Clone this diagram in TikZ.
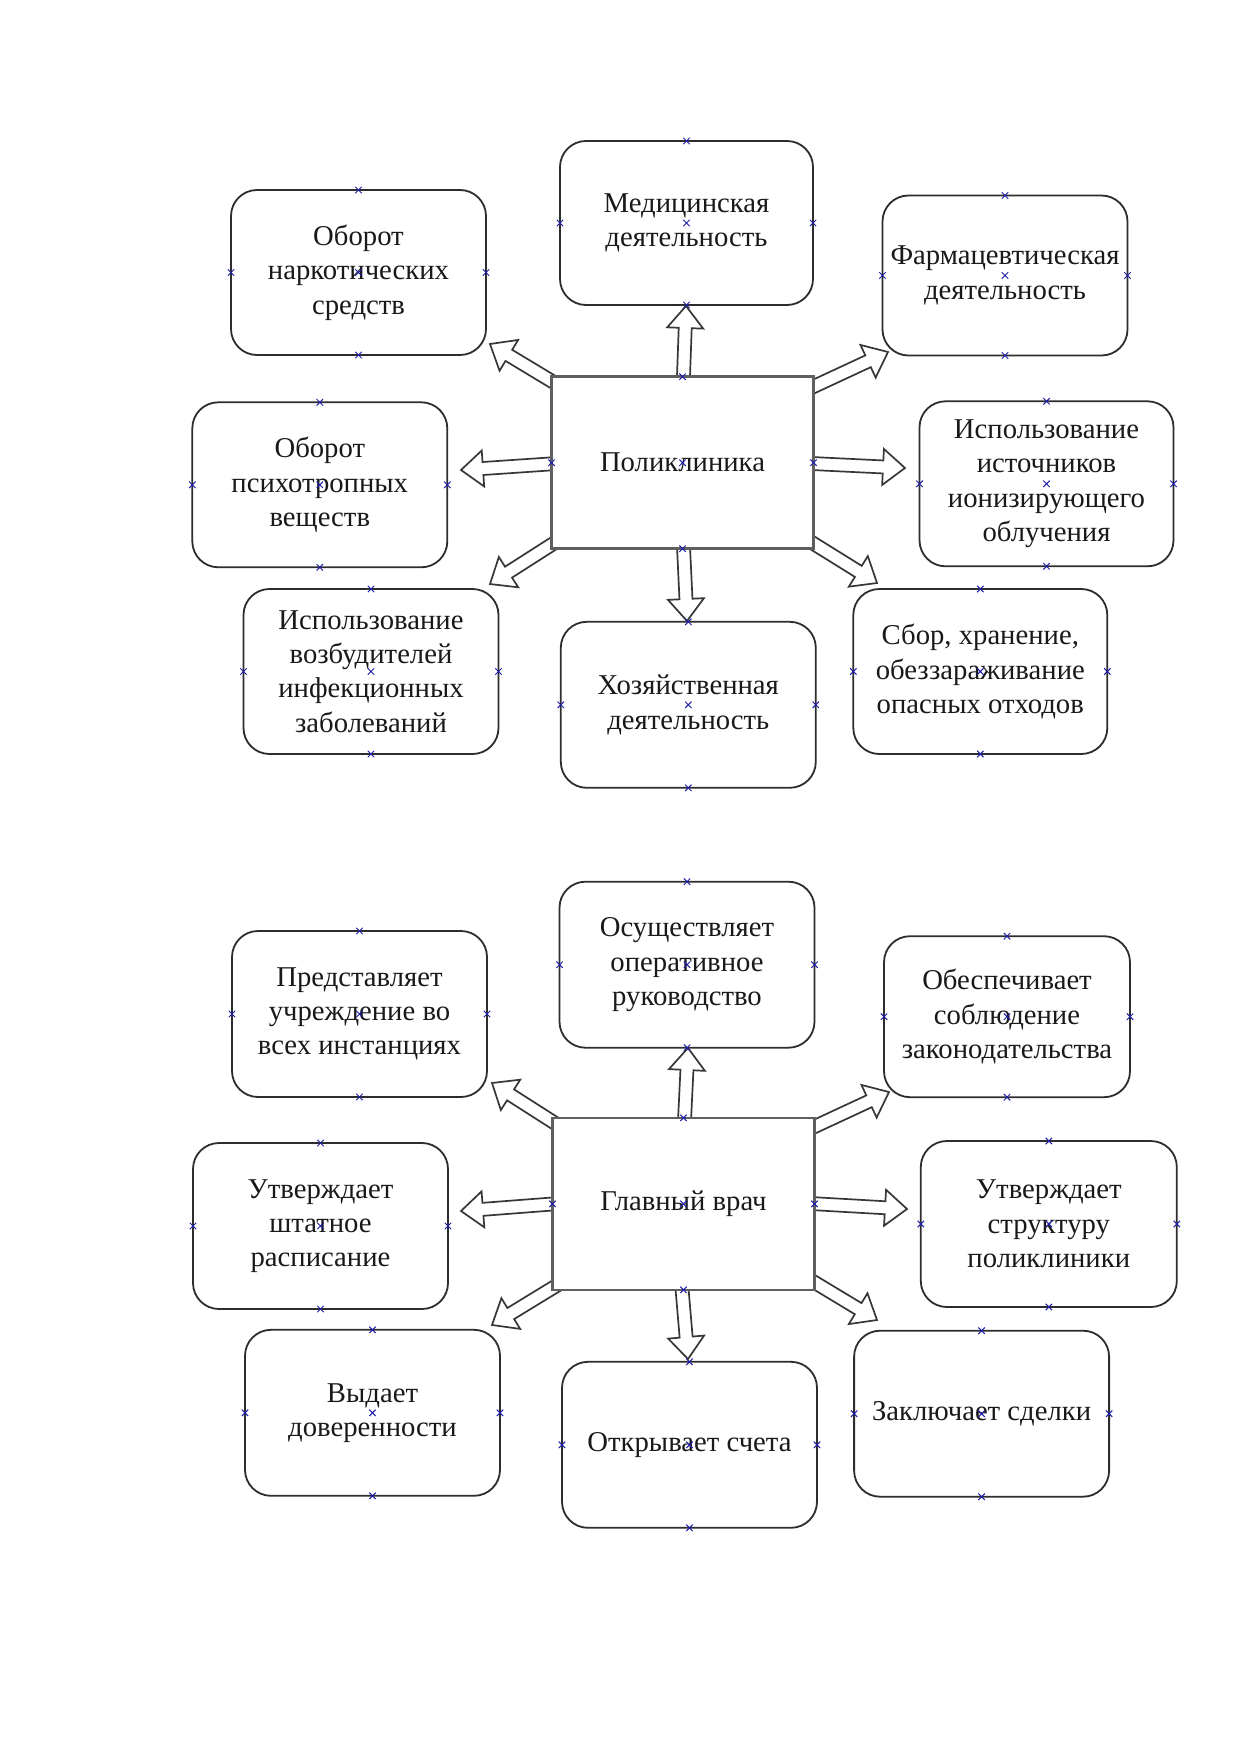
\documentclass[tikz,border=0pt]{standalone}
\usepackage{fontspec}
\setmainfont{Liberation Serif}
\usetikzlibrary{calc}
\pgfdeclarelayer{background}
\pgfsetlayers{background,main}
\definecolor{boxline}{RGB}{45,45,45}
\definecolor{cenline}{RGB}{95,95,95}
\definecolor{arrline}{RGB}{55,55,55}
\definecolor{markblue}{RGB}{30,30,170}
\tikzset{
  rbox/.style={draw=boxline, line width=1.8pt, fill=white, rectangle, rounded corners=26pt,
    inner sep=0pt, outer sep=0pt, align=center, text=black!90,
    font=\fontsize{28.7}{34.3}\selectfont},
  cbox/.style={draw=cenline, line width=2.6pt, fill=white, rectangle,
    inner sep=0pt, outer sep=0pt, align=center, text=black!90,
    minimum width=262pt, minimum height=172pt,
    font=\fontsize{28.7}{34.3}\selectfont},
  blockarrow/.style={draw=arrline, line width=1.7pt, fill=white, line join=miter},
  xmk/.style={draw=markblue, line width=1pt},
}
\newcommand{\blockarr}[2]{%
  \path ($(#2)!22pt!(#1)$) coordinate (bN);
  \draw[blockarrow] ($(#1)!6.5pt!90:(#2)$) -- ($(bN)!6.5pt!90:(#2)$) -- ($(bN)!18pt!90:(#2)$)
    -- (#2) -- ($(bN)!18pt!-90:(#2)$) -- ($(bN)!6.5pt!-90:(#2)$) -- ($(#1)!6.5pt!-90:(#2)$) -- cycle;}
\newcommand{\xmkat}[1]{\draw[xmk] (#1) +(-3.2,-3.2) -- +(3.2,3.2) +(-3.2,3.2) -- +(3.2,-3.2);}
\newcommand{\fivemarks}[1]{\xmkat{#1.north}\xmkat{#1.south}\xmkat{#1.east}\xmkat{#1.west}\xmkat{#1.center}}
\begin{document}
\begin{tikzpicture}[x=1pt,y=-1pt]
\useasboundingbox (0,0) rectangle (1239,1752);
% ---------- top diagram nodes ----------
\node[cbox] (pol) at (682.5,462.7) {Поликлиника};
\node[rbox, minimum width=253pt, minimum height=164pt] (med) at (686.5,223) {Медицинская\\деятельность};
\node[rbox, minimum width=255pt, minimum height=165pt] (narco) at (358.5,272.5) {Оборот\\наркотических\\средств};
\node[rbox, minimum width=245pt, minimum height=160pt] (pharma) at (1005,275.5) {Фармацевтическая\\деятельность};
\node[rbox, minimum width=255pt, minimum height=165pt] (psycho) at (319.8,484.8) {Оборот\\психотропных\\веществ};
\node[rbox, minimum width=254pt, minimum height=165pt] (ion) at (1046.5,483.8) {Использование\\источников\\ионизирующего\\облучения};
\node[rbox, minimum width=255pt, minimum height=165pt] (inf) at (371,671.5) {Использование\\возбудителей\\инфекционных\\заболеваний};
\node[rbox, minimum width=255pt, minimum height=166pt] (econ) at (688.3,704.8) {Хозяйственная\\деятельность};
\node[rbox, minimum width=254pt, minimum height=165pt] (waste) at (980.3,671.5) {Сбор, хранение,\\обеззараживание\\опасных отходов};
% ---------- bottom diagram nodes ----------
\node[cbox] (chief) at (683.5,1203.8) {Главный врач};
\node[rbox, minimum width=255pt, minimum height=166pt] (oper) at (687,964.7) {Осуществляет\\оперативное\\руководство};
\node[rbox, minimum width=255pt, minimum height=166pt] (repr) at (359.5,1014) {Представляет\\учреждение во\\всех инстанциях};
\node[rbox, minimum width=246pt, minimum height=161pt] (law) at (1007,1016.7) {Обеспечивает\\соблюдение\\законодательства};
\node[rbox, minimum width=255pt, minimum height=166pt] (staff) at (320.5,1226) {Утверждает\\штатное\\расписание};
\node[rbox, minimum width=256pt, minimum height=166pt] (struct) at (1048.8,1224) {Утверждает\\структуру\\поликлиники};
\node[rbox, minimum width=255pt, minimum height=166pt] (proxy) at (372.5,1412.8) {Выдает\\доверенности};
\node[rbox, minimum width=255pt, minimum height=166pt] (acc) at (689.5,1444.8) {Открывает счета};
\node[rbox, minimum width=255pt, minimum height=166pt] (deal) at (981.6,1413.7) {Заключает сделки};
% ---------- marks ----------
\foreach \n in {pol,med,narco,pharma,psycho,ion,inf,econ,waste,chief,oper,repr,law,staff,struct,proxy,acc,deal}{\fivemarks{\n}}
% ---------- arrows (behind boxes) ----------
\begin{pgfonlayer}{background}
\fill[white] (0,0) rectangle (1239,1752);
% top
\coordinate (a1s) at (683,390);  \coordinate (a1e) at (686,306);
\coordinate (a2s) at (563,388);  \coordinate (a2e) at (490,344);
\coordinate (a3s) at (564,463);  \coordinate (a3e) at (461,470);
\coordinate (a4s) at (562,538);  \coordinate (a4e) at (490,584);
\coordinate (a5s) at (683,536);  \coordinate (a5e) at (687,621);
\coordinate (a6s) at (803,537);  \coordinate (a6e) at (877,583);
\coordinate (a7s) at (801,463);  \coordinate (a7e) at (905,468);
\coordinate (a8s) at (803,391.5);\coordinate (a8e) at (888,352);
% bottom
\coordinate (b1s) at (684,1131); \coordinate (b1e) at (688,1048);
\coordinate (b2s) at (564,1129); \coordinate (b2e) at (492,1083);
\coordinate (b3s) at (565,1203); \coordinate (b3e) at (461,1211);
\coordinate (b4s) at (564,1281); \coordinate (b4e) at (492,1325);
\coordinate (b5s) at (681,1277); \coordinate (b5e) at (688,1359);
\coordinate (b6s) at (804,1276); \coordinate (b6e) at (877,1320);
\coordinate (b7s) at (802,1203); \coordinate (b7e) at (907,1209);
\coordinate (b8s) at (804,1131.5);\coordinate (b8e) at (889,1092);
\foreach \k in {a1,a2,a3,a4,a5,a6,a7,a8,b1,b2,b3,b4,b5,b6,b7,b8}{\blockarr{\k s}{\k e}}
\end{pgfonlayer}
\end{tikzpicture}
\end{document}
